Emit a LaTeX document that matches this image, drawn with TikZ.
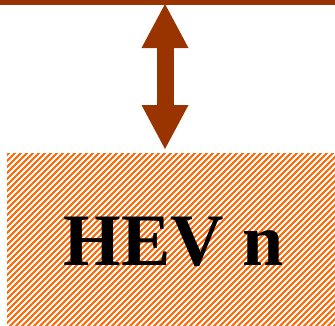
\documentclass[tikz,border=0pt]{standalone}
\usepackage{fontspec}
\setmainfont{Liberation Serif}
\usetikzlibrary{arrows.meta}
\definecolor{brownred}{HTML}{993300}
\definecolor{hatchorange}{HTML}{FF6600}
\tikzset{
  topbar/.style={draw=brownred, line width=5pt},
  linkarrow/.style={draw=brownred, line width=17pt,
    {Triangle[length=44pt,width=47pt,line width=0pt,fill=brownred]}-{Triangle[length=44pt,width=47pt,line width=0pt,fill=brownred]}},
  hevbox/.style={draw=none, fill=white, inner sep=0pt, minimum width=328pt, minimum height=171pt},
  hatchline/.style={draw=hatchorange, line width=1.9pt},
  hevlabel/.style={font=\fontsize{74}{80}\selectfont\bfseries, inner sep=0pt}
}
\begin{document}
\begin{tikzpicture}[x=1pt,y=1pt]
\useasboundingbox (0,0) rectangle (335,325);
\coordinate (barL) at (0,322.5);
\coordinate (barR) at (335,322.5);
\draw[topbar] (barL) -- (barR);
\node[hevbox, anchor=south west] (box) at (7,0) {};
\begin{scope}
  \clip (box.south west) rectangle (box.north east);
  \foreach \k in {-180,-174,...,340} {
    \draw[hatchline] (\k,-5) -- ++(185,185);
  }
\end{scope}
\node[hevlabel, anchor=base] (lbl) at (174,60) {HEV n};
\coordinate (armtop) at (165,321);
\coordinate (armbot) at (165,176);
\draw[linkarrow] (armtop) -- (armbot);
\end{tikzpicture}
\end{document}
